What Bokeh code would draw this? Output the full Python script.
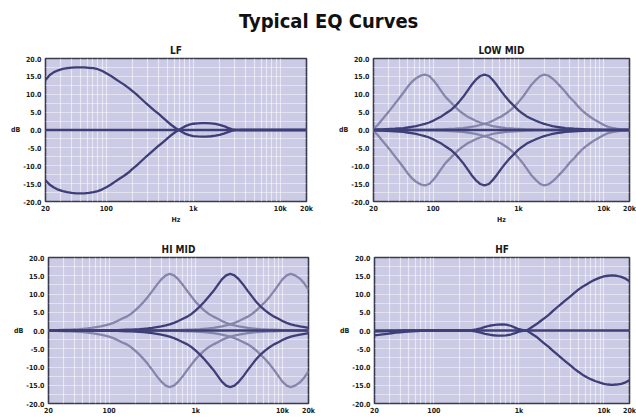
from bokeh.plotting import figure
from bokeh.layouts import column, row
from bokeh.models import FixedTicker, NumeralTickFormatter, Range1d
from bokeh.embed import file_html
from bokeh.resources import INLINE
from bokeh.core.properties import value

# ---------------- data ----------------
FREQ = [20, 22.4, 25, 28, 31.5, 35.5, 40, 45, 50, 56, 63, 71, 80, 90, 100,
        112, 125, 140, 160, 180, 200, 224, 250, 280, 315, 355, 400, 450, 500, 560,
        630, 710, 800, 900, 1000, 1120, 1250, 1400, 1600, 1800, 2000, 2240, 2500,
        2800, 3150, 3550, 4000, 4500, 5000, 5600, 6300, 7100, 8000, 9000, 10000,
        11200, 12500, 14000, 16000, 18000, 20000]

FLAT_F = [20, 20000]
FLAT_DB = [0, 0]

LF_BOOST = [14.0, 15.4, 16.2, 16.7, 17.1, 17.3, 17.45, 17.5, 17.5, 17.5, 17.4, 17.3, 17.0,
            16.5, 15.9, 15.2, 14.4, 13.6, 12.7, 11.8, 10.9, 9.9, 8.8, 7.7, 6.6, 5.5, 4.5,
            3.4, 2.4, 1.4, 0.5, -0.3, -1.0, -1.45, -1.7, -1.8, -1.85, -1.85, -1.75, -1.6,
            -1.35, -1.0, -0.6, -0.2, -0.05,
            0, 0, 0, 0, 0, 0, 0, 0, 0, 0, 0, 0, 0, 0, 0, 0]
LF_CUT = [-14.1, -15.3, -16.1, -16.7, -17.1, -17.4, -17.6, -17.7, -17.7, -17.7, -17.6, -17.4,
          -17.1, -16.6, -16.0, -15.3, -14.5, -13.7, -12.8, -11.9, -10.9, -9.9, -8.8, -7.7,
          -6.6, -5.5, -4.4, -3.4, -2.4, -1.4, -0.5, 0.3, 1.0, 1.5, 1.75, 1.85, 1.9, 1.9,
          1.85, 1.7, 1.45, 1.1, 0.6, 0.2, 0.05,
          0, 0, 0, 0, 0, 0, 0, 0, 0, 0, 0, 0, 0, 0, 0, 0]

LM_LOW_UP = [0.3, 1.4, 2.8, 4.2, 5.7, 7.3, 8.9, 10.5, 12.0, 13.4, 14.5, 15.2, 15.5,
             15.1, 14.0, 12.5, 10.8, 9.2, 7.8, 6.6, 5.5, 4.6, 3.8, 3.2, 2.6, 2.1, 1.7,
             1.4, 1.1, 0.9, 0.7, 0.55, 0.45, 0.35, 0.3, 0.25, 0.2, 0.15, 0.1, 0.1, 0.05,
             0, 0, 0, 0, 0, 0, 0, 0, 0, 0, 0, 0, 0, 0, 0, 0, 0, 0, 0, 0]
LM_LOW_DN = [-0.3, -1.4, -2.8, -4.2, -5.7, -7.3, -8.9, -10.5, -12.0, -13.4, -14.5, -15.2, -15.5,
             -15.1, -14.0, -12.5, -10.8, -9.2, -7.8, -6.6, -5.5, -4.6, -3.8, -3.2, -2.6, -2.1,
             -1.7, -1.4, -1.1, -0.9, -0.7, -0.55, -0.45, -0.35, -0.3, -0.25, -0.2, -0.15,
             -0.1, -0.1, -0.05,
             0, 0, 0, 0, 0, 0, 0, 0, 0, 0, 0, 0, 0, 0, 0, 0, 0, 0, 0, 0]
LM_MID_UP = [0.1, 0.15, 0.2, 0.25, 0.3, 0.35, 0.45, 0.55, 0.7, 0.9, 1.1, 1.4, 1.7, 2.1,
             2.6, 3.2, 3.8, 4.6, 5.5, 6.6, 7.8, 9.2, 10.8, 12.5, 14.0, 15.1, 15.5,
             15.1, 14.0, 12.5, 10.8, 9.2, 7.8, 6.6, 5.5, 4.6, 3.8, 3.2, 2.6, 2.1, 1.7,
             1.4, 1.1, 0.9, 0.7, 0.55, 0.45, 0.35, 0.3, 0.25, 0.2, 0.15, 0.1, 0.1, 0.05,
             0, 0, 0, 0, 0, 0]
LM_MID_DN = [-0.1, -0.15, -0.2, -0.25, -0.3, -0.35, -0.45, -0.55, -0.7, -0.9, -1.1, -1.4,
             -1.7, -2.1, -2.6, -3.2, -3.8, -4.6, -5.5, -6.6, -7.8, -9.2, -10.8, -12.5, -14.0,
             -15.1, -15.5,
             -15.1, -14.0, -12.5, -10.8, -9.2, -7.8, -6.6, -5.5, -4.6, -3.8, -3.2, -2.6, -2.1,
             -1.7, -1.4, -1.1, -0.9, -0.7, -0.55, -0.45, -0.35, -0.3, -0.25, -0.2, -0.15,
             -0.1, -0.1, -0.05,
             0, 0, 0, 0, 0, 0]
LM_HIGH_UP = [0, 0, 0, 0, 0, 0, 0, 0, 0, 0, 0, 0,
              0.05, 0.1, 0.1, 0.15, 0.2, 0.25, 0.3, 0.35, 0.45, 0.55, 0.7, 0.9, 1.1, 1.4,
              1.7, 2.1, 2.6, 3.2, 3.8, 4.6, 5.5, 6.6, 7.8, 9.2, 10.8, 12.5, 14.0, 15.1, 15.5,
              15.2, 14.4, 13.3, 12.0, 10.6, 9.1, 7.9, 6.6, 5.4, 4.4, 3.5, 2.7, 2.0, 1.4,
              0.9, 0.6, 0.35, 0.2, 0.1, 0.0]
LM_HIGH_DN = [0, 0, 0, 0, 0, 0, 0, 0, 0, 0, 0, 0,
              -0.05, -0.1, -0.1, -0.15, -0.2, -0.25, -0.3, -0.35, -0.45, -0.55, -0.7, -0.9,
              -1.1, -1.4, -1.7, -2.1, -2.6, -3.2, -3.8, -4.6, -5.5, -6.6, -7.8, -9.2, -10.8,
              -12.5, -14.0, -15.1, -15.5,
              -15.2, -14.4, -13.3, -12.0, -10.6, -9.1, -7.9, -6.6, -5.4, -4.4, -3.5, -2.7,
              -2.0, -1.4, -0.9, -0.6, -0.35, -0.2, -0.1, 0.0]

HM_LOW_UP = [0.05, 0.1, 0.1, 0.15, 0.2, 0.25, 0.3, 0.35, 0.45, 0.55, 0.7, 0.9, 1.1, 1.4,
             1.7, 2.1, 2.6, 3.2, 3.8, 4.6, 5.5, 6.6, 7.8, 9.2, 10.8, 12.5, 14.0, 15.1, 15.5,
             15.1, 14.0, 12.5, 10.8, 9.2, 7.8, 6.6, 5.5, 4.6, 3.8, 3.2, 2.6, 2.1, 1.7,
             1.4, 1.1, 0.9, 0.7, 0.55, 0.45, 0.35, 0.3, 0.25, 0.2, 0.15, 0.1, 0.1, 0.05,
             0, 0, 0, 0]
HM_LOW_DN = [-0.05, -0.1, -0.1, -0.15, -0.2, -0.25, -0.3, -0.35, -0.45, -0.55, -0.7, -0.9,
             -1.1, -1.4, -1.7, -2.1, -2.6, -3.2, -3.8, -4.6, -5.5, -6.6, -7.8, -9.2, -10.8,
             -12.5, -14.0, -15.1, -15.5,
             -15.1, -14.0, -12.5, -10.8, -9.2, -7.8, -6.6, -5.5, -4.6, -3.8, -3.2, -2.6, -2.1,
             -1.7, -1.4, -1.1, -0.9, -0.7, -0.55, -0.45, -0.35, -0.3, -0.25, -0.2, -0.15,
             -0.1, -0.1, -0.05,
             0, 0, 0, 0]
HM_MID_UP = [0, 0, 0, 0, 0, 0, 0, 0, 0, 0, 0, 0, 0, 0,
             0.05, 0.1, 0.1, 0.15, 0.2, 0.25, 0.3, 0.35, 0.45, 0.55, 0.7, 0.9, 1.1, 1.4,
             1.7, 2.1, 2.6, 3.2, 3.8, 4.6, 5.5, 6.6, 7.8, 9.2, 10.8, 12.5, 14.0, 15.1, 15.5,
             15.1, 14.0, 12.5, 10.8, 9.2, 7.8, 6.6, 5.5, 4.6, 3.8, 3.2, 2.6, 2.1, 1.7,
             1.4, 1.1, 0.9, 0.7]
HM_MID_DN = [0, 0, 0, 0, 0, 0, 0, 0, 0, 0, 0, 0, 0, 0,
             -0.05, -0.1, -0.1, -0.15, -0.2, -0.25, -0.3, -0.35, -0.45, -0.55, -0.7, -0.9,
             -1.1, -1.4, -1.7, -2.1, -2.6, -3.2, -3.8, -4.6, -5.5, -6.6, -7.8, -9.2, -10.8,
             -12.5, -14.0, -15.1, -15.5,
             -15.1, -14.0, -12.5, -10.8, -9.2, -7.8, -6.6, -5.5, -4.6, -3.8, -3.2, -2.6, -2.1,
             -1.7, -1.4, -1.1, -0.9, -0.7]
HM_HIGH_UP = [0, 0, 0, 0, 0, 0, 0, 0, 0, 0, 0, 0, 0, 0,
              0, 0, 0, 0, 0, 0, 0, 0, 0, 0, 0, 0, 0, 0,
              0.05, 0.1, 0.1, 0.15, 0.2, 0.25, 0.3, 0.35, 0.45, 0.55, 0.7, 0.9, 1.1, 1.4,
              1.7, 2.1, 2.6, 3.2, 3.8, 4.6, 5.5, 6.6, 7.8, 9.2, 10.8, 12.5, 14.0, 15.1, 15.5,
              15.1, 14.2, 12.8, 11.2]
HM_HIGH_DN = [0, 0, 0, 0, 0, 0, 0, 0, 0, 0, 0, 0, 0, 0,
              0, 0, 0, 0, 0, 0, 0, 0, 0, 0, 0, 0, 0, 0,
              -0.05, -0.1, -0.1, -0.15, -0.2, -0.25, -0.3, -0.35, -0.45, -0.55, -0.7, -0.9,
              -1.1, -1.4, -1.7, -2.1, -2.6, -3.2, -3.8, -4.6, -5.5, -6.6, -7.8, -9.2, -10.8,
              -12.5, -14.0, -15.1, -15.5,
              -15.1, -14.2, -12.8, -11.2]

HF_BOOST = [-0.3, -0.25, -0.2, -0.15, -0.1, -0.1, -0.05,
            0, 0, 0, 0, 0, 0, 0, 0, 0, 0, 0, 0, 0, 0, 0, 0,
            -0.1, -0.3, -0.6, -0.9, -1.15, -1.3, -1.4, -1.4, -1.35, -1.1, -0.7, -0.3, -0.1, 0.1,
            0.8, 1.7, 2.6, 3.4, 4.3, 5.3, 6.3, 7.3, 8.3, 9.3, 10.3, 11.2, 12.0, 12.7, 13.4,
            14.0, 14.5, 14.8, 15.0, 15.1, 15.0, 14.7, 14.2, 13.5]
HF_CUT = [-1.3, -1.2, -1.05, -0.9, -0.75, -0.6, -0.5, -0.4, -0.3, -0.2, -0.15, -0.1,
          -0.05, -0.05, 0, 0, 0, 0, 0, 0, 0, 0, 0,
          0.1, 0.3, 0.6, 1.0, 1.3, 1.5, 1.6, 1.65, 1.6, 1.3, 0.8, 0.35, 0.1, -0.1,
          -0.8, -1.7, -2.7, -3.6, -4.5, -5.5, -6.5, -7.5, -8.5, -9.5, -10.5, -11.3, -12.1,
          -12.8, -13.4, -13.9, -14.3, -14.6, -14.8, -14.9, -14.8, -14.6, -14.2, -13.6]

Y_TICKS = [-20, -15, -10, -5, 0, 5, 10, 15, 20]
Y_GRID = [-17.5, -15, -12.5, -10, -7.5, -5, -2.5, 0, 2.5, 5, 7.5, 10, 12.5, 15, 17.5]
X_GRID = [30, 40, 50, 60, 70, 80, 90, 100, 200, 300, 400, 500, 600, 700, 800, 900,
          1000, 2000, 3000, 4000, 5000, 6000, 7000, 8000, 9000, 10000]
X_TICKS_A = [20, 100, 1000, 10000, 20000]
X_LABELS_A = ["20", "100", "1k", "10k", "20k"]

TITLE = "Typical EQ Curves"
PANEL_TITLES = ["LF", "LOW MID", "HI MID", "HF"]

# ---------------- style ----------------
FONT = "DejaVu Sans Condensed, Liberation Sans, sans-serif"
DARK = "#3e3e78"
LIGHT = "#8686ac"
BG = "#cbcbe5"
LW = 2.3


def panel(title, light, dark, width, height, mb, show_hz=True):
    p = figure(width=width, height=height, x_axis_type="log",
               x_range=Range1d(20, 20000), y_range=Range1d(-20, 20),
               output_backend="svg", toolbar_location=None,
               min_border_left=mb[0], min_border_right=mb[1],
               min_border_top=mb[2], min_border_bottom=mb[3])
    p.title.text = title
    p.title.align = "center"
    p.title.text_font = FONT
    p.title.text_font_size = "10px"
    p.title.text_font_style = "bold"
    p.title.text_color = "#1a1a1a"
    p.title.standoff = 5
    p.background_fill_color = BG
    p.border_fill_color = "white"
    p.outline_line_color = "#3a3a4e"
    p.outline_line_width = 1.6

    p.xgrid.ticker = FixedTicker(ticks=X_GRID)
    p.xgrid.grid_line_color = "white"
    p.xgrid.grid_line_alpha = 0.55
    p.xgrid.grid_line_width = 1.2
    p.ygrid.ticker = FixedTicker(ticks=Y_GRID)
    p.ygrid.grid_line_color = "white"
    p.ygrid.grid_line_alpha = 0.45
    p.ygrid.grid_line_width = 1

    for ax in (p.xaxis[0], p.yaxis[0]):
        ax.axis_line_color = None
        ax.major_tick_line_color = None
        ax.minor_tick_line_color = None
        ax.major_tick_out = 0
        ax.minor_tick_out = 0
        ax.major_tick_in = 0
        ax.minor_tick_in = 0
        ax.major_label_text_font = FONT
        ax.major_label_text_font_size = "7px"
        ax.major_label_text_font_style = "bold"
        ax.major_label_text_color = "#1a1a1a"
        ax.axis_label_text_font = FONT
        ax.axis_label_text_font_size = "7px"
        ax.axis_label_text_font_style = "bold"
        ax.axis_label_text_color = "#1a1a1a"

    xa = p.xaxis[0]
    xa.ticker = FixedTicker(ticks=X_TICKS_A)
    xa.major_label_overrides = dict(zip(X_TICKS_A, X_LABELS_A))
    xa.major_label_standoff = 3
    if show_hz:
        xa.axis_label = "Hz"
        xa.axis_label_standoff = 0

    ya = p.yaxis[0]
    ya.ticker = FixedTicker(ticks=Y_TICKS)
    ya.formatter = NumeralTickFormatter(format="0.0")
    ya.major_label_standoff = 4
    ya.axis_label = "dB"
    ya.axis_label_orientation = "horizontal"
    ya.axis_label_standoff = 0

    for ys in light:
        p.line(FREQ, ys, line_color=LIGHT, line_width=LW, line_join="round")
    for ys in dark:
        p.line(FREQ, ys, line_color=DARK, line_width=LW, line_join="round")
    p.line(FLAT_F, FLAT_DB, line_color=DARK, line_width=LW)
    return p


head = figure(width=636, height=34, x_range=Range1d(0, 1), y_range=Range1d(0, 1),
              output_backend="svg", toolbar_location=None,
              min_border=0, outline_line_color=None)
head.axis.visible = False
head.grid.visible = False
head.text(x=[0.516], y=[0.41], text=[TITLE], text_align="center",
          text_baseline="middle", text_font=value(FONT), text_font_size="20px",
          text_font_style="bold", text_color="#111111")

f1 = panel(PANEL_TITLES[0], [], [LF_BOOST, LF_CUT], 318, 192, (45, 12, 24, 22))
f2 = panel(PANEL_TITLES[1], [LM_LOW_UP, LM_LOW_DN, LM_HIGH_UP, LM_HIGH_DN],
           [LM_MID_UP, LM_MID_DN], 318, 192, (55, 7, 24, 22))
f3 = panel(PANEL_TITLES[2], [HM_LOW_UP, HM_LOW_DN, HM_HIGH_UP, HM_HIGH_DN],
           [HM_MID_UP, HM_MID_DN], 318, 191, (48, 10, 31, 12), show_hz=False)
f4 = panel(PANEL_TITLES[3], [], [HF_BOOST, HF_CUT], 318, 191, (56, 7, 31, 12), show_hz=False)

page = column(head, row(f1, f2), row(f3, f4))
open("out.html", "w").write(file_html(page, INLINE))
